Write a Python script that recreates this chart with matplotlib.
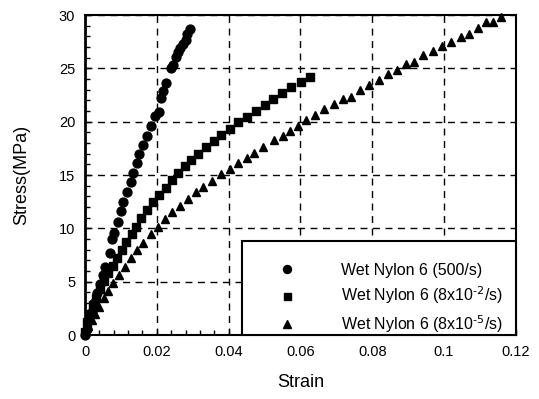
import matplotlib
matplotlib.use('Agg')
import matplotlib.pyplot as plt
import matplotlib.patches as mpatches
from matplotlib.ticker import MultipleLocator

plt.rcParams['font.family'] = ['Liberation Sans', 'DejaVu Sans']
plt.rcParams['mathtext.default'] = 'regular'

# stress-strain data, wet nylon 6 at three strain rates
strain_500 = [0.0, 0.0005, 0.0012, 0.0019, 0.0025, 0.0034, 0.0042, 0.0049, 0.0056,
              0.0069, 0.0075, 0.0082, 0.0093, 0.0099, 0.0106, 0.0118, 0.0127, 0.0134,
              0.0144, 0.0151, 0.0162, 0.0174, 0.0185, 0.0194, 0.0206, 0.0213, 0.0218,
              0.0227, 0.0239, 0.0245, 0.0253, 0.0259, 0.0266, 0.0273, 0.0280, 0.0285,
              0.0292]
stress_500 = [0.0, 0.6, 1.4, 2.2, 3.0, 3.9, 4.8, 5.6, 6.4,
              7.65, 9.0, 9.6, 10.6, 11.6, 12.5, 13.4, 14.3, 15.15,
              16.15, 17.0, 17.8, 18.7, 19.6, 20.5, 20.9, 22.2, 22.9,
              23.6, 25.0, 25.3, 26.1, 26.5, 26.9, 27.25, 27.65, 28.2,
              28.7]

strain_8e2 = [0.0, 0.0006, 0.0014, 0.0021, 0.0031, 0.0042, 0.0053, 0.0065, 0.0079,
              0.0088, 0.0102, 0.0114, 0.0130, 0.0142, 0.0155, 0.0174, 0.0190, 0.0206,
              0.0225, 0.0241, 0.0259, 0.0278, 0.0296, 0.0315, 0.0338, 0.0358, 0.0380,
              0.0403, 0.0426, 0.0451, 0.0475, 0.0500, 0.0523, 0.0549, 0.0574, 0.0602,
              0.0628]
stress_8e2 = [0.3, 1.25, 2.0, 2.8, 3.5, 4.3, 5.1, 5.8, 6.5,
              7.2, 7.97, 8.75, 9.5, 10.15, 10.95, 11.7, 12.5, 13.1,
              13.75, 14.5, 15.15, 15.8, 16.4, 17.0, 17.6, 18.2, 18.75,
              19.3, 19.95, 20.4, 21.0, 21.6, 22.1, 22.7, 23.25, 23.75,
              24.2]

strain_8e5 = [0.0, 0.0009, 0.0019, 0.0028, 0.0040, 0.0053, 0.0065, 0.0079, 0.0095,
              0.0111, 0.0127, 0.0145, 0.0162, 0.0183, 0.0203, 0.0222, 0.0243, 0.0264,
              0.0287, 0.0308, 0.0329, 0.0355, 0.0378, 0.0403, 0.0427, 0.0450, 0.0472,
              0.0497, 0.0526, 0.0551, 0.0572, 0.0594, 0.0616, 0.0642, 0.0667, 0.0693,
              0.0720, 0.0741, 0.0767, 0.0792, 0.0818, 0.0843, 0.0868, 0.0894, 0.0917,
              0.0942, 0.0970, 0.0995, 0.1019, 0.1046, 0.1069, 0.1095, 0.1118, 0.1137,
              0.1160]
stress_8e5 = [0.2, 0.8, 1.4, 2.0, 2.65, 3.45, 4.1, 4.85, 5.6,
              6.4, 7.2, 7.95, 8.6, 9.45, 10.15, 10.85, 11.5, 12.1,
              12.75, 13.4, 13.85, 14.4, 15.1, 15.6, 16.15, 16.6, 17.1,
              17.65, 18.3, 18.65, 19.15, 19.6, 20.2, 20.6, 21.2, 21.7,
              22.1, 22.3, 22.95, 23.4, 23.9, 24.5, 24.85, 25.4, 25.6,
              26.25, 26.65, 27.1, 27.5, 27.97, 28.2, 28.75, 29.3, 29.3,
              29.85]

labels = ['Wet Nylon 6 (500/s)',
          r'Wet Nylon 6 (8x10$^{\text{-2}}$/s)',
          r'Wet Nylon 6 (8x10$^{\text{-5}}$/s)']

fig = plt.figure(figsize=(5.39, 3.99), dpi=100)
ax = fig.add_axes([0.1577, 0.1604, 0.7993, 0.802])

ax.plot(strain_500, stress_500, 'o', color='black', ms=6.4, label=labels[0], clip_on=False, zorder=3)
ax.plot(strain_8e2, stress_8e2, 's', color='black', ms=5.6, label=labels[1], clip_on=False, zorder=3)
ax.plot(strain_8e5, stress_8e5, '^', color='black', ms=6.4, label=labels[2], clip_on=False, zorder=3)

ax.set_xlim(0, 0.12)
ax.set_ylim(0, 30)
ax.xaxis.set_major_locator(MultipleLocator(0.02))
ax.xaxis.set_minor_locator(MultipleLocator(0.004))
ax.yaxis.set_major_locator(MultipleLocator(5))
ax.yaxis.set_minor_locator(MultipleLocator(1))
ax.set_xticks([0, 0.02, 0.04, 0.06, 0.08, 0.1, 0.12])
ax.set_xticklabels(['0', '0.02', '0.04', '0.06', '0.08', '0.1', '0.12'])

ax.tick_params(which='both', direction='in', top=False, right=False,
               labelsize=10.5, pad=7, width=1, color='black')
ax.tick_params(which='major', length=4)
ax.tick_params(which='minor', length=3.5)

ax.grid(True, which='major', color='black', linestyle=(0, (5, 4)), linewidth=1)
for s in ax.spines.values():
    s.set_linewidth(1.5)
ax.spines['left'].set_linewidth(2)

ax.set_xlabel('Strain', fontsize=13, labelpad=11)
ax.set_ylabel('Stress(MPa)', fontsize=13, labelpad=21)

# legend box in the lower right corner
box = mpatches.Rectangle((0.364, 0.0), 0.636, 0.294, transform=ax.transAxes,
                         facecolor='white', edgecolor='black', linewidth=1.5,
                         zorder=4, clip_on=False)
ax.add_patch(box)
leg = ax.legend(loc='upper left', bbox_to_anchor=(0.450, 0.2256), frameon=False,
                fontsize=11.5, handlelength=1.0, handletextpad=2.88, borderpad=0,
                labelspacing=0.42, markerscale=0.9, borderaxespad=0)
leg.set_zorder(5)

fig.savefig('out.png', dpi=100)
